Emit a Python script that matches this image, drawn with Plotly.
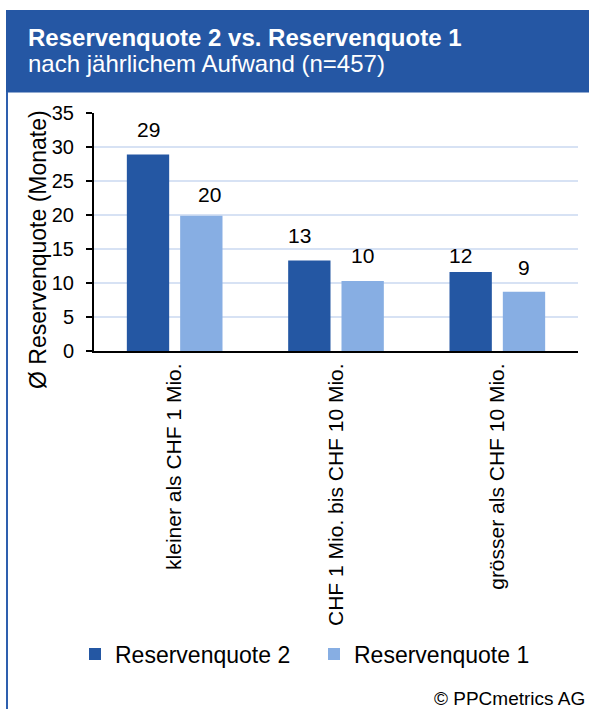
import plotly.graph_objects as go

# ---- data ----
categories = ["kleiner als CHF 1 Mio.", "CHF 1 Mio. bis CHF 10 Mio.", "grösser als CHF 10 Mio."]
reservenquote_2 = [28.9, 13.3, 11.6]
reservenquote_1 = [19.9, 10.3, 8.7]
series_names = ["Reservenquote 2", "Reservenquote 1"]
y_ticks = [0, 5, 10, 15, 20, 25, 30, 35]

# ---- styling ----
W, H = 589, 709
L, R, T, B = 94, 11, 113, 358
PW, PH = W - L - R, H - T - B
FONT = "Liberation Sans, Arial, sans-serif"
DARK = "#2457a3"
LIGHT = "#87aee3"
HEADER = "#2557a4"
GRID = "#d7e2f4"

# pixel offsets for the value labels (bar offset within group, label nudges)
BAR_OFFSET = 26.65
LABEL_NUDGE_2 = [(0, 11), (-10, 12), (-10, 3)]
LABEL_NUDGE_1 = [(8, 8), (0, 12), (0, 11)]


def fx(px):
    return (px - L) / PW


def fy(py):
    return (H - B - py) / PH


fig = go.Figure()
fig.add_trace(go.Bar(x=categories, y=reservenquote_2, name=series_names[0],
                     marker=dict(color=DARK, line=dict(width=0))))
fig.add_trace(go.Bar(x=categories, y=reservenquote_1, name=series_names[1],
                     marker=dict(color=LIGHT, line=dict(width=0))))

annotations = []
for vals, sign, nudges in ((reservenquote_2, -1, LABEL_NUDGE_2), (reservenquote_1, 1, LABEL_NUDGE_1)):
    for cat, v, (dx, dy) in zip(categories, vals, nudges):
        annotations.append(dict(
            x=cat, y=v, xref="x", yref="y", text=f"{v:.0f}", showarrow=False,
            xanchor="center", yanchor="bottom", xshift=sign * BAR_OFFSET + dx, yshift=dy,
            font=dict(family=FONT, size=21, color="#000")))

# header text
annotations.append(dict(x=fx(26), y=fy(37), xref="paper", yref="paper", xanchor="left", yanchor="middle",
                        text="<b>Reservenquote 2 vs. Reservenquote 1</b>", showarrow=False,
                        font=dict(family=FONT, size=24, color="white")))
annotations.append(dict(x=fx(26), y=fy(63), xref="paper", yref="paper", xanchor="left", yanchor="middle",
                        text="nach jährlichem Aufwand (n=457)", showarrow=False,
                        font=dict(family=FONT, size=24, color="white")))
# y axis title
annotations.append(dict(x=fx(38), y=fy(250), xref="paper", yref="paper", xanchor="center", yanchor="middle",
                        text="Ø Reservenquote (Monate)", textangle=-90, showarrow=False,
                        font=dict(family=FONT, size=23, color="#000")))
# footer
annotations.append(dict(x=fx(587), y=fy(698), xref="paper", yref="paper", xanchor="right", yanchor="middle",
                        text="© PPCmetrics AG", showarrow=False,
                        font=dict(family=FONT, size=19, color="#000")))

shapes = [
    dict(type="rect", xref="paper", yref="paper", x0=fx(6), x1=fx(W + 2), y0=fy(92.5), y1=fy(10),
         fillcolor=HEADER, line=dict(width=0), layer="below"),
    dict(type="line", xref="paper", yref="paper", x0=fx(7), x1=fx(7), y0=fy(92), y1=fy(H + 2),
         line=dict(color="#2e5fae", width=2)),
]

fig.update_layout(
    width=W, height=H,
    margin=dict(l=L, r=R, t=T, b=B, autoexpand=False),
    paper_bgcolor="white", plot_bgcolor="white",
    font=dict(family=FONT, color="#000"),
    barmode="group", bargap=0.339, bargroupgap=0.206,
    showlegend=True,
    legend=dict(orientation="h", x=fx(75), y=fy(654), xanchor="left", yanchor="middle",
                font=dict(family=FONT, size=23, color="#000"), entrywidth=194,
                traceorder="normal", bgcolor="rgba(0,0,0,0)"),
    annotations=annotations,
    shapes=shapes,
)
fig.update_xaxes(showline=True, linecolor="#000", linewidth=2, ticks="", showgrid=False,
                 tickangle=-90, tickfont=dict(family=FONT, size=21, color="#000"),
                 ticklabelstandoff=2, automargin=False)
fig.update_yaxes(range=[0, 35], tickvals=y_ticks, showline=True, linecolor="#000", linewidth=2,
                 ticks="outside", ticklen=6, tickwidth=2, tickcolor="#000",
                 showgrid=True, gridcolor=GRID, gridwidth=1.5, zeroline=False,
                 tickfont=dict(family=FONT, size=20, color="#000"), ticklabelstandoff=8,
                 automargin=False)

fig.write_html("out.html")
